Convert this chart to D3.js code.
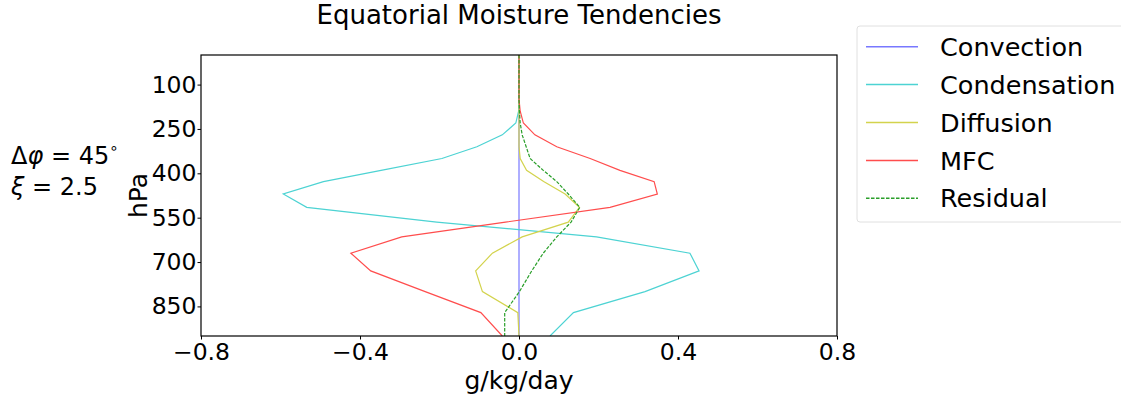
<!DOCTYPE html>
<html>
<head>
<meta charset="utf-8">
<script src="https://d3js.org/d3.v7.min.js"></script>
<style>
  body { margin: 0; background: #fff; }
  text { font-family: "DejaVu Sans", sans-serif; }
</style>
</head>
<body>
<script>
// pressure levels (hPa) and tendencies (g/kg/day)
var levels =       [0, 50, 100, 150, 190, 230, 270, 310, 350, 390, 428, 470, 515, 565, 615, 670, 730, 800, 871, 950];
var convection =   [0, 0, 0, 0, 0, 0, 0, 0, 0, 0, 0, 0, 0, 0, 0, 0, 0, 0, 0, 0];
var condensation = [0, 0, 0, 0, -0.001, -0.008, -0.042, -0.106, -0.194, -0.347, -0.492, -0.593, -0.534, -0.207, 0.195, 0.430, 0.453, 0.317, 0.137, 0.078];
var diffusion =    [0, 0, 0, 0, 0, 0, 0, 0, 0.003, 0.019, 0.062, 0.116, 0.152, 0.124, 0.008, -0.067, -0.109, -0.092, -0.003, 0];
var mfc =          [0, 0, 0, 0, 0.003, 0.011, 0.040, 0.095, 0.179, 0.254, 0.340, 0.348, 0.229, -0.034, -0.295, -0.423, -0.373, -0.236, -0.096, -0.042];
var residual =     [0, 0, 0, 0, 0.001, 0.003, 0.008, 0.018, 0.028, 0.061, 0.095, 0.124, 0.153, 0.131, 0.095, 0.061, 0.032, 0.001, -0.036, -0.036];

var seriesNames = ["Convection", "Condensation", "Diffusion", "MFC", "Residual"];
var xTicks = [-0.8, -0.4, 0.0, 0.4, 0.8];
var yTicks = [100, 250, 400, 550, 700, 850];

var series = [
    { name: seriesNames[0], values: convection,   color: "#7878ff", dash: null },
    { name: seriesNames[1], values: condensation, color: "#4dd3d3", dash: null },
    { name: seriesNames[2], values: diffusion,    color: "#d3d34d", dash: null },
    { name: seriesNames[3], values: mfc,          color: "#ff4d4d", dash: null },
    { name: seriesNames[4], values: residual,     color: "#2a9f2a", dash: "3.5,1.5" }
];

var margin = { top: 55, right: 284, bottom: 61, left: 201 },
    width = 1121 - margin.left - margin.right,
    height = 397 - margin.top - margin.bottom;

var root = d3.select("body").append("svg")
    .attr("width", 1121)
    .attr("height", 397);

var svg = root.append("g")
    .attr("transform", "translate(" + margin.left + "," + margin.top + ")");

var xScale = d3.scaleLinear().domain([-0.8, 0.8]).range([0, width]);
var yScale = d3.scaleLinear().domain([0, 950]).range([0, height]);

var xAxis = d3.axisBottom(xScale).tickValues(xTicks).tickFormat(d3.format(".1f"))
    .tickSizeInner(3.5).tickSizeOuter(0).tickPadding(3.5);
var yAxis = d3.axisLeft(yScale).tickValues(yTicks)
    .tickSizeInner(3.5).tickSizeOuter(0).tickPadding(1);

svg.append("defs").append("clipPath").attr("id", "clip")
    .append("rect").attr("width", width).attr("height", height);

var line = d3.line()
    .x(function (d) { return xScale(d[1]); })
    .y(function (d) { return yScale(d[0]); });

svg.append("g").attr("clip-path", "url(#clip)")
    .selectAll("path")
    .data(series)
    .enter().append("path")
    .attr("fill", "none")
    .attr("stroke", function (d) { return d.color; })
    .attr("stroke-width", 1.2)
    .attr("stroke-dasharray", function (d) { return d.dash; })
    .attr("d", function (d) { return line(levels.map(function (p, i) { return [p, d.values[i]]; })); });

// frame
svg.append("rect")
    .attr("width", width).attr("height", height)
    .attr("fill", "none").attr("stroke", "#000").attr("stroke-width", 1.2);

svg.append("g")
    .attr("class", "x axis")
    .attr("transform", "translate(0," + height + ")")
    .call(xAxis);

svg.append("g")
    .attr("class", "y axis")
    .call(yAxis);

svg.selectAll(".axis text").attr("font-size", 23.5).attr("fill", "#000")
    .style("font-family", "'DejaVu Sans', sans-serif");
svg.selectAll(".axis path").remove();
svg.selectAll(".axis line").attr("stroke", "#000");

// labels
root.append("text")
    .attr("x", margin.left + width / 2).attr("y", 24)
    .attr("text-anchor", "middle").attr("font-size", 26)
    .text("Equatorial Moisture Tendencies");

root.append("text")
    .attr("x", margin.left + width / 2).attr("y", 389)
    .attr("text-anchor", "middle").attr("font-size", 25)
    .text("g/kg/day");

root.append("text")
    .attr("transform", "translate(147," + (margin.top + height / 2) + ") rotate(-90)")
    .attr("text-anchor", "middle").attr("font-size", 25)
    .text("hPa");

var note = root.append("text").attr("font-size", 24);
var l1 = note.append("tspan").attr("x", 11).attr("y", 164);
l1.append("tspan").text("Δ");
l1.append("tspan").attr("font-style", "italic").text("φ");
l1.append("tspan").text(" = 45");
l1.append("tspan").attr("font-size", 15).attr("dy", -11).text("∘");
var l2 = note.append("tspan").attr("x", 11).attr("y", 195);
l2.append("tspan").attr("font-style", "italic").text("ξ");
l2.append("tspan").text(" = 2.5");

// legend
var legend = root.append("g").attr("transform", "translate(857,26)");
legend.append("rect")
    .attr("width", 290).attr("height", 196).attr("rx", 3)
    .attr("fill", "#fff").attr("stroke", "#e0e0e0").attr("stroke-width", 1);

var rows = legend.selectAll(".row")
    .data(series)
    .enter().append("g")
    .attr("class", "row")
    .attr("transform", function (d, i) { return "translate(0," + (20.7 + i * 37.9) + ")"; });

rows.append("line")
    .attr("x1", 9).attr("x2", 61)
    .attr("stroke", function (d) { return d.color; })
    .attr("stroke-width", 1.5)
    .attr("stroke-dasharray", function (d) { return d.dash; });

rows.append("text")
    .attr("x", 83).attr("dy", "0.36em")
    .attr("font-size", 25.5)
    .text(function (d) { return d.name; });
</script>
</body>
</html>
